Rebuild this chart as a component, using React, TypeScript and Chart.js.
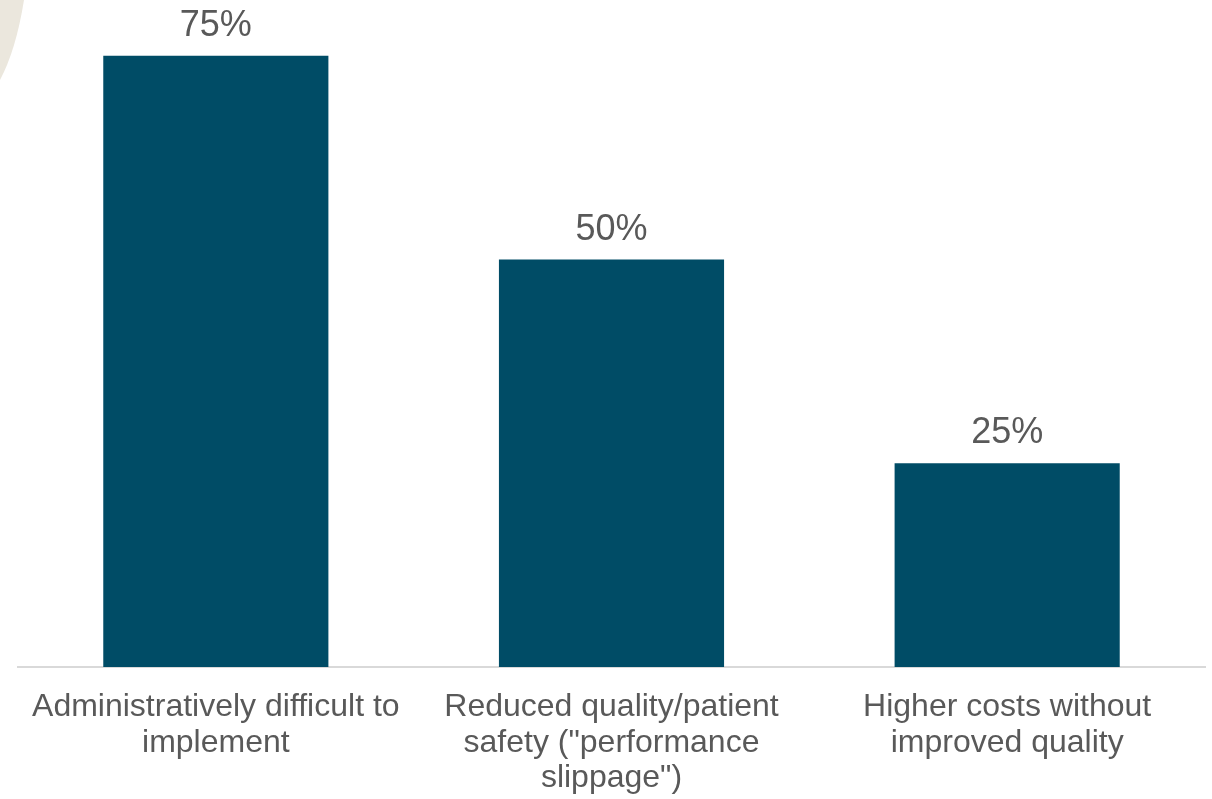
import React, { useEffect, useRef } from "react";
import { Chart, registerables } from "chart.js";

Chart.register(...registerables);

const categories: string[][] = [
  ["Administratively difficult to", "implement"],
  ["Reduced quality/patient", "safety (\"performance", "slippage\")"],
  ["Higher costs without", "improved quality"],
];
const shares: number[] = [75, 50, 25];
const axisMax = 80;

const barColor = "#004C66";
const textColor = "#595959";
const fontFamily = "'Liberation Sans', Arial, sans-serif";

// Beige corner ornament in the top-left of the slide
const cornerPlugin = {
  id: "corner",
  beforeDraw(chart: Chart) {
    const ctx = chart.ctx;
    ctx.save();
    ctx.fillStyle = "#EBE7DD";
    ctx.beginPath();
    ctx.moveTo(0, 0);
    ctx.lineTo(24, 0);
    ctx.quadraticCurveTo(16, 50, 0, 80);
    ctx.closePath();
    ctx.fill();
    ctx.restore();
  },
};

// Percentage labels above each bar
const valueLabels = {
  id: "valueLabels",
  afterDatasetsDraw(chart: Chart) {
    const ctx = chart.ctx;
    const meta = chart.getDatasetMeta(0);
    const data = chart.data.datasets[0].data as number[];
    ctx.save();
    ctx.fillStyle = textColor;
    ctx.font = `36px ${fontFamily}`;
    ctx.textAlign = "center";
    ctx.textBaseline = "alphabetic";
    meta.data.forEach((bar: any, i: number) => {
      ctx.fillText(`${data[i]}%`, bar.x, bar.y - 20);
    });
    ctx.restore();
  },
};

export default function App() {
  const canvasRef = useRef<HTMLCanvasElement | null>(null);

  useEffect(() => {
    document.body.style.margin = "0";
    const canvas = canvasRef.current;
    if (!canvas) return;
    const chart = new Chart(canvas, {
      type: "bar",
      data: {
        labels: categories,
        datasets: [
          {
            data: shares,
            backgroundColor: barColor,
            borderWidth: 0,
            barPercentage: 0.569,
            categoryPercentage: 1,
          },
        ],
      },
      options: {
        animation: false,
        responsive: false,
        maintainAspectRatio: false,
        layout: { padding: { left: 18, right: 7, top: 15, bottom: 0 } },
        plugins: {
          legend: { display: false },
          tooltip: { enabled: false },
        },
        scales: {
          x: {
            grid: { display: false, drawTicks: false },
            border: { display: true, color: "#D9D9D9", width: 2 },
            ticks: {
              color: textColor,
              padding: 23,
              maxRotation: 0,
              autoSkip: false,
              font: { family: fontFamily, size: 32, lineHeight: 1.1 },
            },
            afterFit(scale: any) {
              scale.height = 132;
            },
          },
          y: {
            display: false,
            min: 0,
            max: axisMax,
          },
        },
      },
      plugins: [cornerPlugin, valueLabels],
    });
    return () => chart.destroy();
  }, []);

  return (
    <div style={{ width: 1212, height: 799, background: "#FFFFFF" }}>
      <canvas ref={canvasRef} width={1212} height={799} style={{ display: "block" }} />
    </div>
  );
}
